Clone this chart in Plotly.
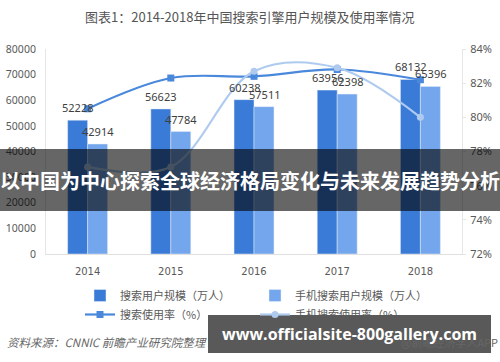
import plotly.graph_objects as go

years = ["2014", "2015", "2016", "2017", "2018"]
search_users = [52228, 56623, 60238, 63956, 68132]
mobile_users = [42914, 47784, 57511, 62398, 65396]
search_rate = [80.5, 82.3, 82.4, 82.8, 82.2]
mobile_rate = [77.1, 77.1, 82.7, 82.9, 80.0]
right_ticks = [72, 74, 76, 78, 80, 82, 84]
right_labels = ["72%", "74%", "76%", "78%", "80%", "82%", "84%"]

W, H = 500, 362
ml, mr, mt, mb = 46, 38, 49, 108
pw, ph = W - ml - mr, H - mt - mb

def px(x):
    return (x - ml) / pw

def py(y):
    return (H - mb - y) / ph

FONT = "Noto Sans CJK SC"
dark = "#3a7bd8"
light = "#73a6ec"

fig = go.Figure()
fig.add_trace(go.Bar(
    x=years, y=search_users, name="搜索用户规模（万人）",
    marker=dict(color=dark), textposition="none",
))
fig.add_trace(go.Bar(
    x=years, y=mobile_users, name="手机搜索用户规模（万人）",
    marker=dict(color=light), textposition="none",
))
fig.add_trace(go.Scatter(
    x=years, y=search_rate, name="搜索使用率（%）", yaxis="y2",
    mode="lines+markers", line=dict(color="#4a88dc", width=2.2, shape="spline"),
    marker=dict(symbol="square", size=7, color="#4a88dc"),
))
fig.add_trace(go.Scatter(
    x=years, y=mobile_rate, name="手机搜索使用率（%）", yaxis="y2",
    mode="lines+markers", line=dict(color="#aecbef", width=2.2, shape="spline"),
    marker=dict(symbol="circle", size=7, color="#aecbef"),
))

# value labels above bars (placed on the data axes)
for i, v in enumerate(search_users):
    fig.add_annotation(x=i, y=v, xref="x", yref="y", text=str(v), showarrow=False,
                       xshift=-10, yshift=3, yanchor="bottom", xanchor="center",
                       font=dict(size=11, color="#404040", family="Noto Sans"))
for i, v in enumerate(mobile_users):
    fig.add_annotation(x=i, y=v, xref="x", yref="y", text=str(v), showarrow=False,
                       xshift=10, yshift=3, yanchor="bottom", xanchor="center",
                       font=dict(size=11, color="#404040", family="Noto Sans"))

fig.update_layout(
    width=W, height=H,
    margin=dict(l=ml, r=mr, t=mt, b=mb, autoexpand=False),
    paper_bgcolor="white", plot_bgcolor="white",
    barmode="group", bargap=0.52, bargroupgap=0,
    font=dict(family=FONT, color="#595959", size=11),
    showlegend=True,
    legend=dict(orientation="h", x=px(80), xanchor="left", y=py(281), yanchor="top",
                entrywidth=130, font=dict(size=11, color="#595959", family=FONT),
                itemwidth=30, tracegroupgap=0, bgcolor="rgba(0,0,0,0)"),
    xaxis=dict(type="category", showgrid=False, showline=True, linecolor="#e0e0e0", ticks="",
               tickfont=dict(size=10, color="#595959", family="DejaVu Sans"),
               ticklabelstandoff=8, automargin=False),
    yaxis=dict(range=[0, 80000], dtick=10000, tickformat="d", showgrid=False, showline=True,
               linecolor="#e6e6e6", ticks="", zeroline=False, automargin=False,
               ticklabelstandoff=7,
               tickfont=dict(size=10.5, color="#595959", family="Noto Sans")),
    yaxis2=dict(range=[72, 84], tickvals=right_ticks, ticktext=right_labels, overlaying="y",
                side="right", showgrid=False, showline=True, linecolor="#e6e6e6",
                ticks="outside", ticklen=3, tickcolor="#e6e6e6", zeroline=False,
                automargin=False, ticklabelstandoff=2,
                tickfont=dict(size=11, color="#595959", family="Noto Sans")),
)

fig.add_annotation(text="图表1：2014-2018年中国搜索引擎用户规模及使用率情况",
                   xref="paper", yref="paper", x=px(249), y=py(16), yanchor="middle",
                   xanchor="center",
                   showarrow=False, font=dict(size=13, color="#555555", family=FONT))
fig.add_annotation(text="<i>资料来源：CNNIC 前瞻产业研究院整理</i>",
                   xref="paper", yref="paper", x=px(5), y=py(342), xanchor="left",
                   yanchor="middle",
                   showarrow=False, font=dict(size=11.5, color="#666666", family=FONT))
fig.add_annotation(text="@前瞻经济学人APP",
                   xref="paper", yref="paper", x=px(500), y=py(342), xanchor="right",
                   yanchor="middle",
                   showarrow=False, font=dict(size=11, color="#666666", family=FONT))

# overlay banners
fig.add_shape(type="rect", xref="paper", yref="paper", layer="above",
              x0=px(0), x1=px(500), y0=py(149), y1=py(211),
              fillcolor="rgba(0,0,0,0.6)", line=dict(width=0))
fig.add_annotation(text="<b>以中国为中心探索全球经济格局变化与未来发展趋势分析</b>",
                   xref="paper", yref="paper", x=px(250), y=py(180), yanchor="middle",
                   xanchor="center",
                   showarrow=False, font=dict(size=20, color="white", family=FONT))
fig.add_shape(type="rect", xref="paper", yref="paper", layer="above",
              x0=px(208), x1=px(491), y0=py(315), y1=py(353),
              fillcolor="rgba(0,0,0,0.65)", line=dict(width=0))
fig.add_annotation(text="<b>www.officialsite-800gallery.com</b>",
                   xref="paper", yref="paper", x=px(349), y=py(334), yanchor="middle",
                   xanchor="center",
                   showarrow=False, font=dict(size=16, color="white", family="Open Sans"))

fig.write_html("out.html", config={"displayModeBar": False},
               post_script="document.body.style.margin='0';")
